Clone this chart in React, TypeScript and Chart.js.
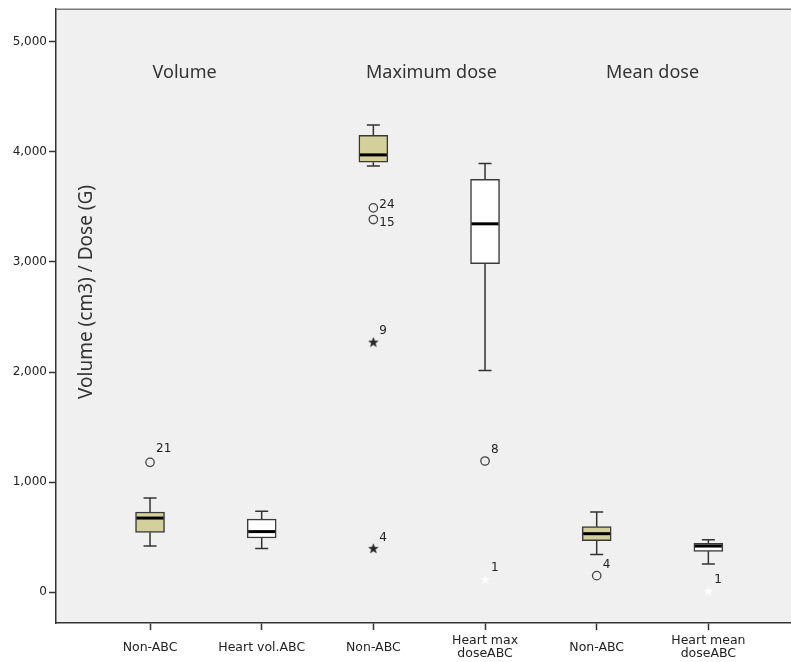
import { useEffect, useRef } from 'react';
import { Chart, registerables } from 'chart.js';

Chart.register(...registerables);

// ---------- data ----------
const categories: (string | string[])[] = [
  'Non-ABC',
  'Heart vol.ABC',
  'Non-ABC',
  ['Heart max', 'doseABC'],
  'Non-ABC',
  ['Heart mean', 'doseABC'],
];
const whiskerLow = [420, 397, 3872, 2015, 342, 257];
const quartile1 = [544, 493, 3905, 2983, 469, 372];
const median = [674, 551, 3972, 3346, 532, 420];
const quartile3 = [729, 665, 4150, 3750, 596, 445];
const whiskerHigh = [856, 735, 4244, 3893, 729, 478];

const outlierCategory = [0, 2, 2, 3, 4, 2, 2, 3, 5];
const outlierValue = [1180, 3491, 3385, 1192, 151, 2271, 397, 115, 9];
const outlierLabel = ['21', '24', '15', '8', '4', '9', '4', '1', '1'];
const outlierKind = ['circle', 'circle', 'circle', 'circle', 'circle', 'star', 'star', 'star', 'star'];

const yTicks = [0, 1000, 2000, 3000, 4000, 5000];
const yTitle = 'Volume (cm3) / Dose (G)';
const groupTitles = ['Volume', 'Maximum dose', 'Mean dose'];

// ---------- layout / style ----------
const groupTitleX = [0.31, 2.52, 4.5];
const groupTitleY = 4720;
const labelDy = [-13, -3, 3, -11, -11, -11, -11, -12, -11];
const boxFill = ['#d4d09b', '#ffffff', '#d4d09b', '#ffffff', '#d4d09b', '#ffffff'];
const starIsWhite = (cat: number) => cat % 2 === 1;

function makeStar(fill: string, stroke: string) {
  const c = document.createElement('canvas');
  c.width = 11;
  c.height = 11;
  const g = c.getContext('2d')!;
  g.beginPath();
  for (let i = 0; i < 10; i++) {
    const r = i % 2 === 0 ? 5 : 2.1;
    const a = -Math.PI / 2 + (i * Math.PI) / 5;
    const px = 5.5 + r * Math.cos(a);
    const py = 5.8 + r * Math.sin(a);
    if (i === 0) g.moveTo(px, py);
    else g.lineTo(px, py);
  }
  g.closePath();
  g.fillStyle = fill;
  g.fill();
  g.strokeStyle = stroke;
  g.lineWidth = 0.5;
  g.stroke();
  return c;
}

export default function App() {
  const ref = useRef<HTMLCanvasElement>(null);

  useEffect(() => {
    document.body.style.margin = '0';
    const canvas = ref.current!;
    const blackStar = makeStar('#2a2a2a', '#2a2a2a');
    const whiteStar = makeStar('#ffffff', '#f7f7f7');

    const circleIdx = outlierKind.map((k, i) => (k === 'circle' ? i : -1)).filter((i) => i >= 0);
    const starIdx = outlierKind.map((k, i) => (k === 'star' ? i : -1)).filter((i) => i >= 0);

    const boxPlugin = {
      id: 'boxExtras',
      beforeDraw(chart: any) {
        const { ctx, chartArea: a } = chart;
        ctx.save();
        ctx.fillStyle = '#f0f0f0';
        ctx.fillRect(a.left, a.top, a.right - a.left, a.bottom - a.top);
        ctx.restore();
      },
      afterDatasetsDraw(chart: any) {
        const { ctx, chartArea: a } = chart;
        const xs = chart.scales.x;
        const ys = chart.scales.y;
        ctx.save();
        // whiskers
        ctx.strokeStyle = '#333';
        ctx.lineWidth = 1.5;
        for (let i = 0; i < categories.length; i++) {
          const x = xs.getPixelForValue(i);
          const yH = ys.getPixelForValue(whiskerHigh[i]);
          const yQ3 = ys.getPixelForValue(quartile3[i]);
          const yL = ys.getPixelForValue(whiskerLow[i]);
          const yQ1 = ys.getPixelForValue(quartile1[i]);
          ctx.beginPath();
          ctx.moveTo(x, yQ3);
          ctx.lineTo(x, yH);
          ctx.moveTo(x - 6.5, yH);
          ctx.lineTo(x + 6.5, yH);
          ctx.moveTo(x, yQ1);
          ctx.lineTo(x, yL);
          ctx.moveTo(x - 6.5, yL);
          ctx.lineTo(x + 6.5, yL);
          ctx.stroke();
        }
        // medians
        ctx.strokeStyle = '#000';
        ctx.lineWidth = 3;
        for (let i = 0; i < categories.length; i++) {
          const x = xs.getPixelForValue(i);
          const y = ys.getPixelForValue(median[i]);
          ctx.beginPath();
          ctx.moveTo(x - 13.5, y);
          ctx.lineTo(x + 13.5, y);
          ctx.stroke();
        }
        // outlier labels
        ctx.fillStyle = '#222';
        ctx.font = '12px "DejaVu Sans"';
        ctx.textAlign = 'left';
        ctx.textBaseline = 'middle';
        for (let i = 0; i < outlierValue.length; i++) {
          const x = xs.getPixelForValue(outlierCategory[i]);
          const y = ys.getPixelForValue(outlierValue[i]);
          ctx.fillText(outlierLabel[i], x + 6, y + labelDy[i]);
        }
        // group titles
        ctx.fillStyle = '#333';
        ctx.font = '18px "Noto Sans"';
        ctx.textAlign = 'center';
        for (let i = 0; i < groupTitles.length; i++) {
          ctx.fillText(groupTitles[i], xs.getPixelForValue(groupTitleX[i]), ys.getPixelForValue(groupTitleY));
        }
        // y title inside plot
        ctx.save();
        ctx.translate(a.left + 31, 292);
        ctx.rotate(-Math.PI / 2);
        ctx.font = '19px "Noto Sans"';
        ctx.fillText(yTitle, 0, 0);
        ctx.restore();
        // top border
        ctx.strokeStyle = '#7a7a7a';
        ctx.lineWidth = 1.5;
        ctx.beginPath();
        ctx.moveTo(a.left, a.top);
        ctx.lineTo(a.right, a.top);
        ctx.stroke();
        ctx.restore();
      },
    };

    const chart = new Chart(canvas, {
      type: 'bar',
      data: {
        datasets: [
          {
            type: 'bar',
            data: categories.map((_, i) => ({ x: i, y: [quartile1[i], quartile3[i]] })) as any,
            backgroundColor: boxFill,
            borderColor: '#3a3a3a',
            borderWidth: 1.5,
            borderSkipped: false,
            barThickness: 29,
          } as any,
          {
            type: 'scatter',
            data: circleIdx.map((i) => ({ x: outlierCategory[i], y: outlierValue[i] })),
            pointStyle: 'circle',
            pointRadius: 4.2,
            pointBorderColor: '#444',
            pointBorderWidth: 1.3,
            pointBackgroundColor: 'rgba(0,0,0,0)',
          } as any,
          {
            type: 'scatter',
            data: starIdx.map((i) => ({ x: outlierCategory[i], y: outlierValue[i] })),
            pointStyle: starIdx.map((i) => (starIsWhite(outlierCategory[i]) ? whiteStar : blackStar)),
            pointRadius: 5,
          } as any,
        ],
      },
      options: {
        responsive: false,
        devicePixelRatio: 1,
        animation: false,
        layout: { autoPadding: false, padding: { top: 8.5, left: 0, right: 0, bottom: 0 } },
        plugins: { legend: { display: false }, tooltip: { enabled: false } },
        scales: {
          x: {
            type: 'linear',
            offset: false,
            min: -0.842,
            max: 5.74,
            afterBuildTicks: (s: any) => {
              s.ticks = categories.map((_, i) => ({ value: i }));
            },
            afterFit: (s: any) => {
              s.height = 39;
              s.paddingRight = 0;
              s.paddingLeft = 0;
            },
            ticks: {
              autoSkip: false,
              maxRotation: 0,
              minRotation: 0,
              crossAlign: 'center',
              padding: 11,
              color: '#222',
              font: { family: 'DejaVu Sans', size: 12.5, lineHeight: 1.05 },
              callback: (v: any) => categories[Math.round(Number(v))] as any,
            },
            grid: { display: true, offset: false, drawOnChartArea: false, drawTicks: true, tickLength: 7, tickColor: '#333', tickWidth: 1.5 },
            border: { display: true, color: '#333', width: 1.5 },
          },
          y: {
            type: 'linear',
            min: -279,
            max: 5295,
            afterBuildTicks: (s: any) => {
              s.ticks = yTicks.map((v) => ({ value: v }));
            },
            afterFit: (s: any) => {
              s.width = 56;
            },
            ticks: {
              padding: 2,
              color: '#222',
              font: { family: 'DejaVu Sans', size: 12 },
              callback: (v: any) => Number(v).toLocaleString('en-US'),
            },
            grid: { display: true, drawOnChartArea: false, drawTicks: true, tickLength: 7, tickColor: '#333', tickWidth: 1.5 },
            border: { display: true, color: '#333', width: 1.5 },
          },
        },
      } as any,
      plugins: [boxPlugin],
    });
    return () => chart.destroy();
  }, []);

  return (
    <div style={{ width: 791, height: 662 }}>
      <canvas ref={ref} width={791} height={662} style={{ display: 'block' }} />
    </div>
  );
}
